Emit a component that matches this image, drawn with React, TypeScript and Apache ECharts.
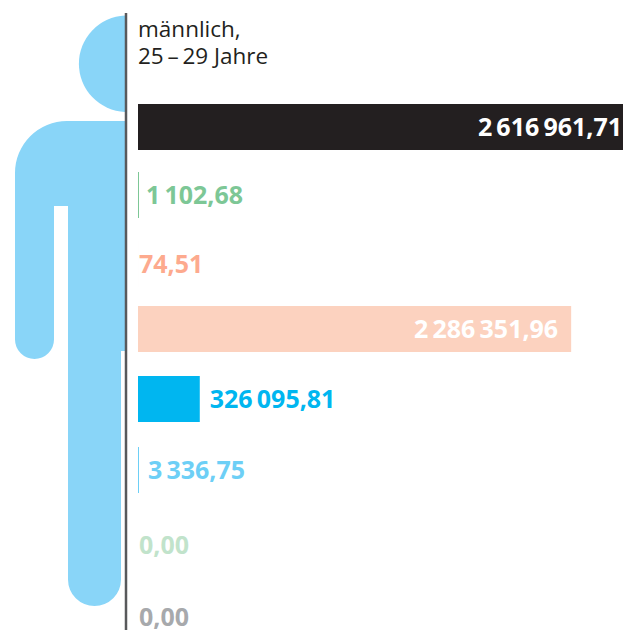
import React, { useEffect, useRef } from "react";
import * as echarts from "echarts";

const categories = ["a", "b", "c", "d", "e", "f", "g", "h"];
const values = [2616961.71, 1102.68, 74.51, 2286351.96, 326095.81, 3336.75, 0, 0];
const valueLabels = ["2\u2009616\u2009961,71", "1\u2009102,68", "74,51", "2\u2009286\u2009351,96", "326\u2009095,81", "3\u2009336,75", "0,00", "0,00"];
const barColors = ["#231f20", "#7dc796", "#fdaa8e", "#fcd2bf", "#00b6f0", "#6dcff6", "#c1e3cb", "#a7a9ac"];
const labelColors = ["#ffffff", "#7dc796", "#fdaa8e", "#ffffff", "#00b6f0", "#6dcff6", "#c1e3cb", "#a7a9ac"];
const titleLines = "männlich,\n25\u2009–\u200929 Jahre";

const rowCentres = [127, 195, 264, 329, 399, 470, 545, 617];
const labelInside = [true, false, false, true, false, false, false, false];
const labelGaps = [1, 7, 1, 13, 10, 9, 1, 1];
const minBar = [0, 1, 0, 0, 0, 1, 0, 0];
const axisMax = 2560000;

const bodyPath = "M125 121 L67 121 A52 52 0 0 0 15 173 L15 339.5 A19.5 19.5 0 0 0 54 339.5 L54 206 L68 206 L68 579.5 A26.5 26.5 0 0 0 121 579.5 L121 351 L125 351 Z";
const headPath = "M125 15.5 A48.3 48.3 0 0 0 125 112 Z";
(echarts.graphic as any).registerShape("figBody", (echarts.graphic as any).extendPath(bodyPath, {}));
(echarts.graphic as any).registerShape("figHead", (echarts.graphic as any).extendPath(headPath, {}));

export default function App() {
  const ref = useRef<HTMLDivElement>(null);
  useEffect(() => {
    const chart = echarts.init(ref.current!, undefined, { renderer: "svg" });
    const labelFont = "'Open Sans', sans-serif";
    chart.setOption({
      animation: false,
      backgroundColor: "#ffffff",
      title: {
        text: titleLines,
        left: 138,
        top: 14.5,
        padding: 0,
        textStyle: { fontFamily: labelFont, fontSize: 22.5, fontWeight: "normal", color: "#231f20", lineHeight: 27 },
      },
      grid: rowCentres.map((c) => ({ left: 138, width: 485, top: c - 23, height: 46, outerBoundsMode: "none" })),
      xAxis: rowCentres.map((_, i) => ({ type: "value", gridIndex: i, min: 0, max: axisMax, show: false })),
      yAxis: rowCentres.map((_, i) => ({ type: "category", gridIndex: i, data: [categories[i]], show: false })),
      series: values.map((v, i) => ({
        type: "bar",
        xAxisIndex: i,
        yAxisIndex: i,
        barWidth: 46,
        barMinHeight: minBar[i],
        itemStyle: { color: barColors[i] },
        data: [v],
        label: {
          show: true,
          position: labelInside[i] ? "insideRight" : "right",
          distance: labelGaps[i],
          offset: [0, -1],
          formatter: () => valueLabels[i],
          color: labelColors[i],
          fontFamily: labelFont,
          fontSize: 25,
          fontWeight: "bold",
          lineHeight: 24,
        },
      })),
      graphic: [
        { type: "figBody", style: { fill: "#89d5f8" }, z: 1 },
        { type: "figHead", style: { fill: "#89d5f8" }, z: 1 },
        { type: "line", shape: { x1: 126, y1: 13, x2: 126, y2: 630 }, style: { stroke: "#58595b", lineWidth: 2.5 }, z: 2 },
      ],
    });
    return () => chart.dispose();
  }, []);
  return <div ref={ref} style={{ position: "absolute", left: 0, top: 0, width: 623, height: 630 }} />;
}
